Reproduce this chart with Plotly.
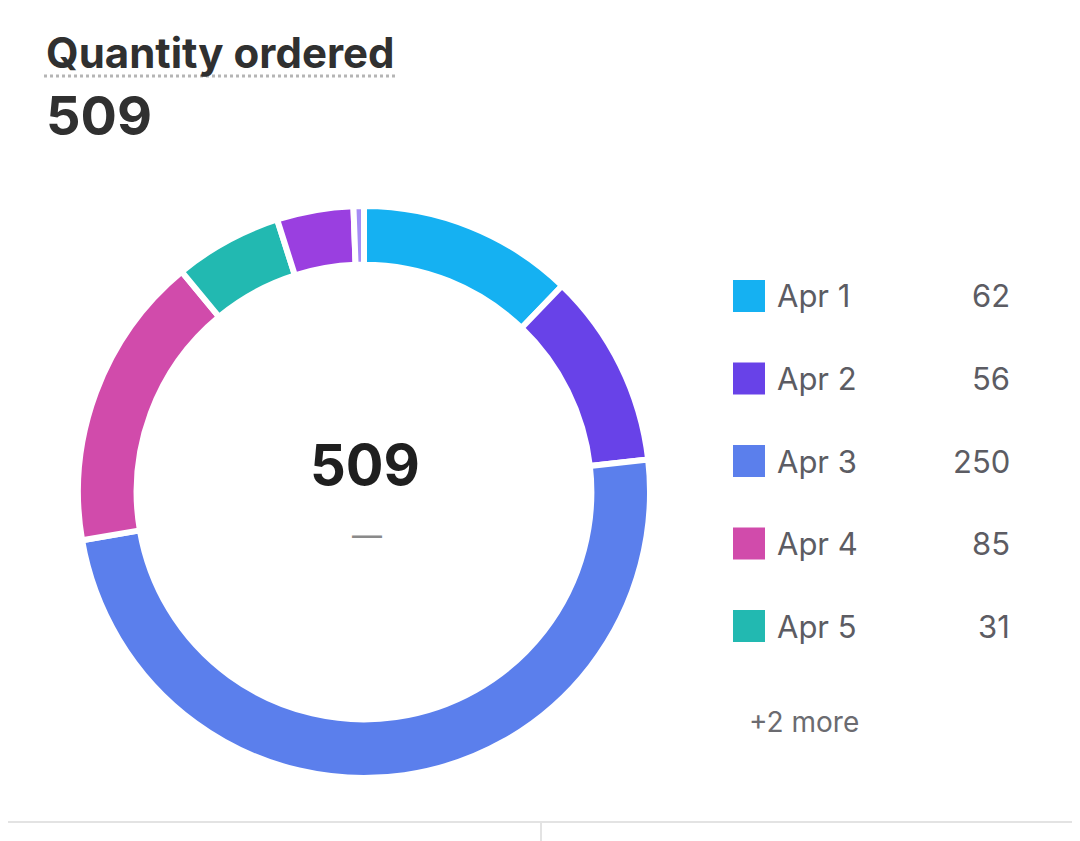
import plotly.graph_objects as go

labels = ["Apr 1", "Apr 2", "Apr 3", "Apr 4", "Apr 5", "Apr 6", "Apr 7"]
values = [62, 56, 250, 85, 31, 22, 3]
colors = ["#15b1f2", "#6842e8", "#5b7fec", "#d14bab", "#22b9b1", "#9a3fe0", "#a58cf5"]
total = sum(values)
shown = 5

W, H = 1080, 841
OFF = 8  # page margin in the screenshot


def px(x):
    return (x - OFF) / W


def py(y):
    return 1 - (y - OFF) / H


fig = go.Figure(go.Pie(
    labels=labels, values=values, hole=0.795, sort=False,
    direction="clockwise", rotation=0,
    marker=dict(colors=colors, line=dict(color="white", width=6)),
    textinfo="none", hoverinfo="label+value",
    domain=dict(x=[px(78), px(650)], y=[py(778), py(206)]),
))

ann = []
def add(text, x, y, size, color="#303030", xanchor="left"):
    ann.append(dict(text=text, x=px(x), y=py(y), xref="paper", yref="paper",
                    xanchor=xanchor, yanchor="middle", showarrow=False,
                    font=dict(size=size, color=color, family="Inter, Noto Sans, sans-serif")))

add("<b>Quantity ordered</b>", 44, 52, 42, "#303030")
add("<b>509</b>", 44, 115, 54, "#303030")
add("<b>%d</b>" % total, 365, 465, 56, "#1f1f1f", xanchor="center")
add("—", 367, 535, 30, "#8a8a8a", xanchor="center")

shapes = [
    dict(type="line", x0=px(44), x1=px(398), y0=py(76), y1=py(76), xref="paper", yref="paper",
         line=dict(color="#b5b5b5", width=3, dash="dot")),
    dict(type="line", x0=0, x1=1, y0=py(822), y1=py(822), xref="paper", yref="paper",
         line=dict(color="#e3e3e3", width=2)),
    dict(type="line", x0=px(541), x1=px(541), y0=0, y1=py(822), xref="paper", yref="paper",
         line=dict(color="#e3e3e3", width=2)),
]

for i in range(shown):
    yc = 296 + i * 82.5
    shapes.append(dict(type="rect", x0=px(733), x1=px(765), y0=py(yc - 16), y1=py(yc + 16),
                       xref="paper", yref="paper", fillcolor=colors[i], line=dict(width=0),
                       layer="above"))
    add(labels[i], 775, yc, 31, "#5c5c63")
    add(str(values[i]), 1012, yc, 31, "#5c5c63", xanchor="right")

add("+%d more" % (len(labels) - shown), 747, 722, 28, "#6b6b70")

fig.update_layout(width=W, height=H, margin=dict(l=0, r=0, t=0, b=0),
                  paper_bgcolor="white", plot_bgcolor="white", showlegend=False,
                  annotations=ann, shapes=shapes)
fig.write_html("out.html")
